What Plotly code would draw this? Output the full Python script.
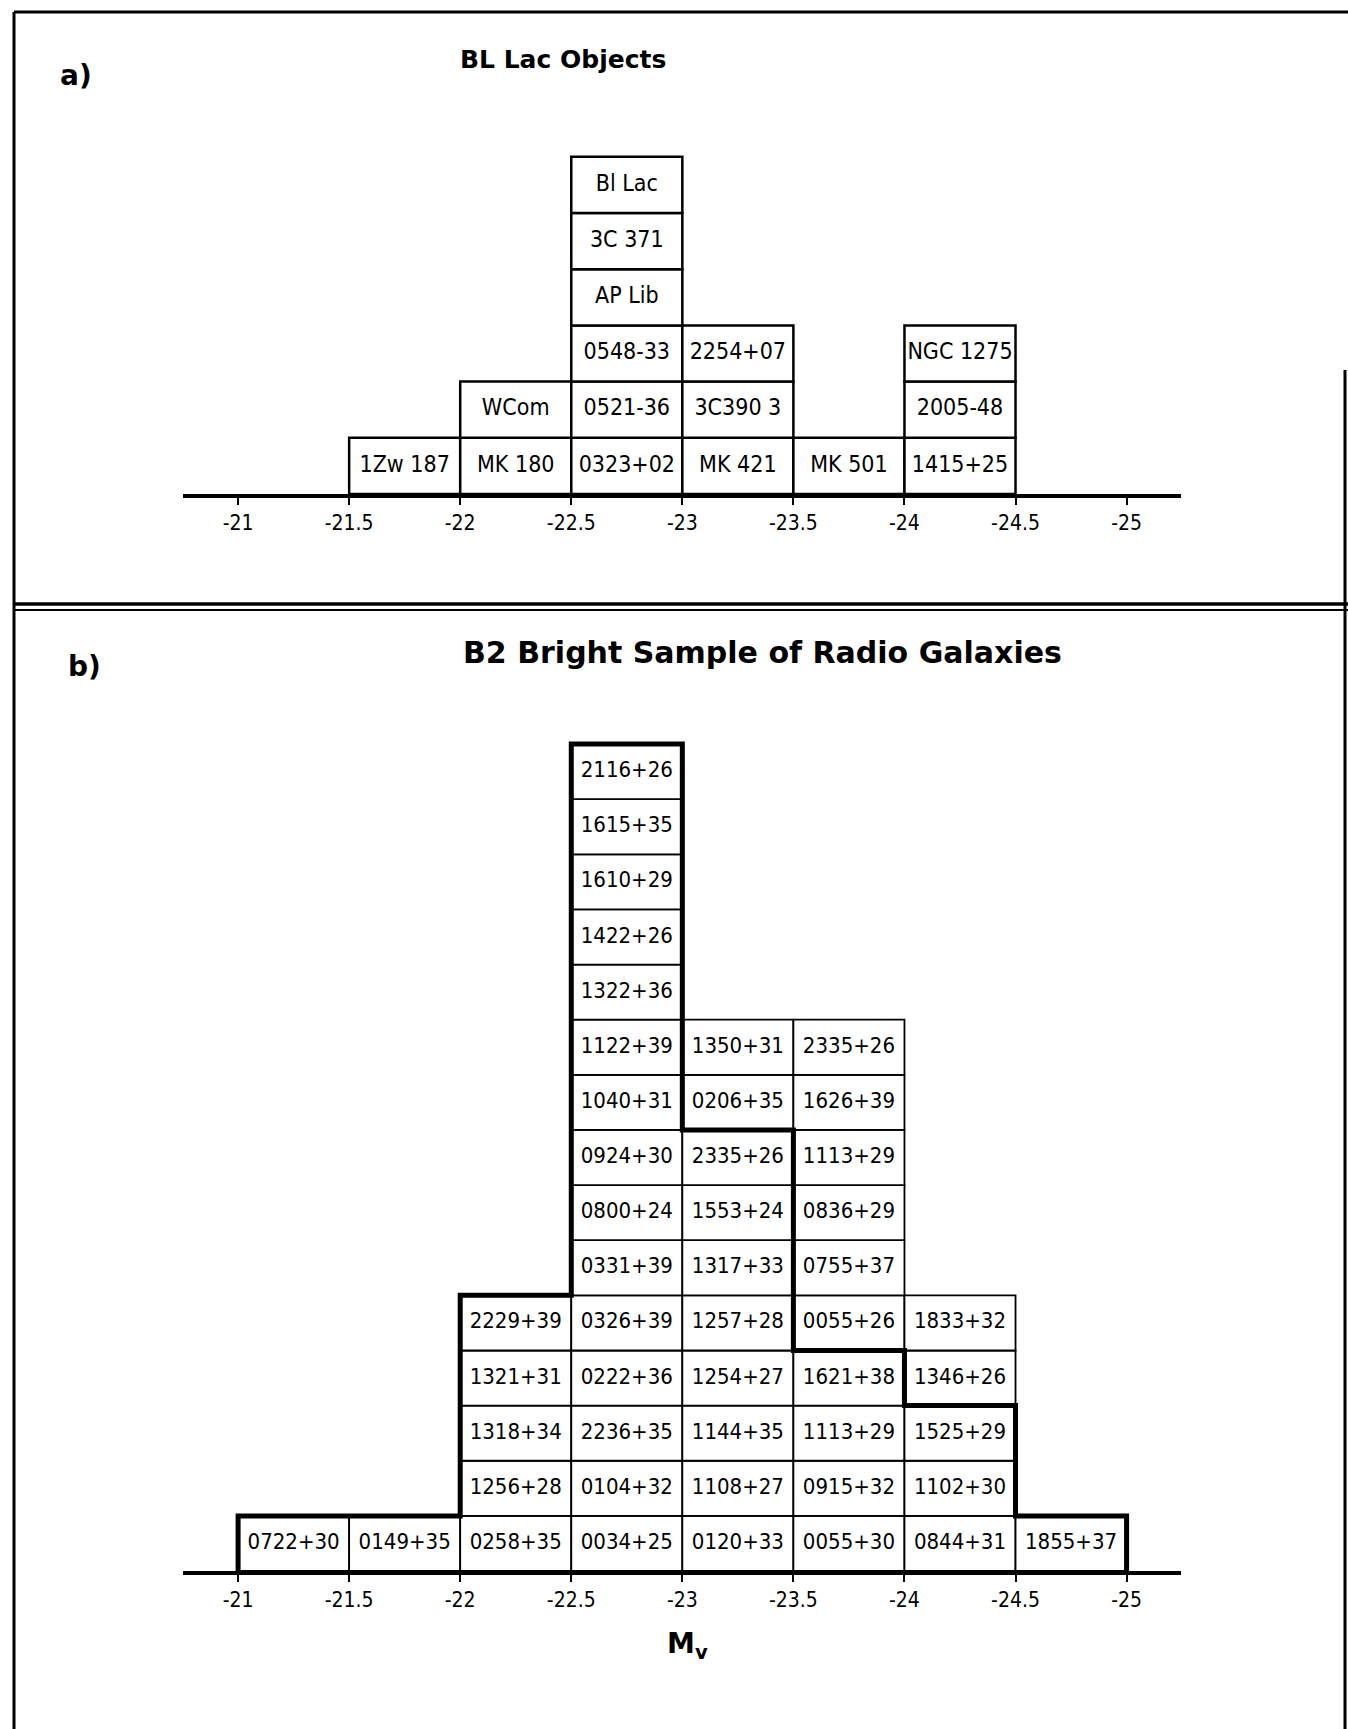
import plotly.graph_objects as go

W, H = 1348, 1729

# ---------------- data ----------------
bin_width = -0.5  # bins run towards brighter (more negative) magnitudes

# Panel a: BL Lac objects, labels per bin from bottom to top
a_bin_left = [-21.5, -22.0, -22.5, -23.0, -23.5, -24.0]
a_labels = [
    ["1Zw 187"],
    ["MK 180", "WCom"],
    ["0323+02", "0521-36", "0548-33", "AP Lib", "3C 371", "Bl Lac"],
    ["MK 421", "3C390 3", "2254+07"],
    ["MK 501"],
    ["1415+25", "2005-48", "NGC 1275"],
]

# Panel b: B2 bright sample of radio galaxies
b_bin_left = [-21.0, -21.5, -22.0, -22.5, -23.0, -23.5, -24.0, -24.5]
b_labels = [
    ["0722+30"],
    ["0149+35"],
    ["0258+35", "1256+28", "1318+34", "1321+31", "2229+39"],
    ["0034+25", "0104+32", "2236+35", "0222+36", "0326+39", "0331+39",
     "0800+24", "0924+30", "1040+31", "1122+39", "1322+36", "1422+26",
     "1610+29", "1615+35", "2116+26"],
    ["0120+33", "1108+27", "1144+35", "1254+27", "1257+28", "1317+33",
     "1553+24", "2335+26", "0206+35", "1350+31"],
    ["0055+30", "0915+32", "1113+29", "1621+38", "0055+26", "0755+37",
     "0836+29", "1113+29", "1626+39", "2335+26"],
    ["0844+31", "1102+30", "1525+29", "1346+26", "1833+32"],
    ["1855+37"],
]
# sub-sample counts (thick outline) per bin
b_sub_counts = [1, 1, 5, 15, 8, 4, 3, 1]

tick_vals = [-21, -21.5, -22, -22.5, -23, -23.5, -24, -24.5, -25]
tick_text = ["-21", "-21.5", "-22", "-22.5", "-23", "-23.5", "-24", "-24.5", "-25"]

# ---------------- helpers ----------------
def flatten(bin_left, labels):
    xs, bases, texts = [], [], []
    for left, col in zip(bin_left, labels):
        for j, lab in enumerate(col):
            xs.append(left + bin_width / 2)
            bases.append(j)
            texts.append(lab)
    return xs, bases, texts

LABEL_FONT = "Liberation Sans Narrow, DejaVu Sans Condensed, Roboto Condensed, Liberation Sans, sans-serif"
TITLE_FONT = "DejaVu Sans, Verdana, sans-serif"

fig = go.Figure()

# Panel a cells
ax, ab, at = flatten(a_bin_left, a_labels)
fig.add_trace(go.Bar(x=ax, y=[1] * len(ax), base=ab, width=abs(bin_width),
                     marker=dict(color="white", line=dict(color="black", width=2.5)),
                     xaxis="x", yaxis="y", showlegend=False, hoverinfo="skip"))
fig.add_trace(go.Scatter(x=ax, y=[b + 0.5 for b in ab], mode="text", text=at,
                         textfont=dict(family=LABEL_FONT, size=23, color="black"),
                         xaxis="x", yaxis="y", showlegend=False, hoverinfo="skip"))

# Panel b cells
bx, bb, bt = flatten(b_bin_left, b_labels)
fig.add_trace(go.Bar(x=bx, y=[1] * len(bx), base=bb, width=abs(bin_width),
                     marker=dict(color="white", line=dict(color="black", width=1.8)),
                     xaxis="x2", yaxis="y2", showlegend=False, hoverinfo="skip"))
fig.add_trace(go.Scatter(x=bx, y=[b + 0.5 for b in bb], mode="text", text=bt,
                         textfont=dict(family=LABEL_FONT, size=22, color="black"),
                         xaxis="x2", yaxis="y2", showlegend=False, hoverinfo="skip"))

# Panel b thick outline of the sub-sample
edges = b_bin_left + [b_bin_left[-1] + bin_width]
out_x = edges + [edges[-1]]
out_y = [0] + b_sub_counts + [0]
fig.add_trace(go.Scatter(x=out_x, y=out_y, mode="lines",
                         line=dict(color="black", width=5, shape="vh"),
                         xaxis="x2", yaxis="y2", showlegend=False, hoverinfo="skip"))

# ---------------- layout ----------------
def ydom(bottom_px, top_px):
    return [1 - bottom_px / H, 1 - top_px / H]

x_dom = [183 / W, 1181 / W]
a_row = 56.2
b_row = 55.13
a_axis_px, b_axis_px = 494, 1571
a_ymax, b_ymax = 7, 15.5

xcommon = dict(domain=x_dom, range=[-20.752, -25.245], showline=True, linecolor="black",
               ticks="outside", ticklen=7, tickwidth=2, tickcolor="black",
               tickvals=tick_vals, ticktext=tick_text, showgrid=False, zeroline=False,
               tickfont=dict(family=LABEL_FONT, size=21, color="black"), fixedrange=True)

fig.update_layout(
    width=W, height=H, margin=dict(l=0, r=0, t=0, b=0),
    paper_bgcolor="white", plot_bgcolor="white", barmode="overlay", showlegend=False,
    xaxis=dict(anchor="y", linewidth=4, **xcommon),
    xaxis2=dict(anchor="y2", linewidth=3.5, **xcommon),
    yaxis=dict(domain=ydom(a_axis_px, a_axis_px - a_ymax * a_row), range=[0, a_ymax],
               visible=False, fixedrange=True),
    yaxis2=dict(domain=ydom(b_axis_px, b_axis_px - b_ymax * b_row), range=[0, b_ymax],
                visible=False, fixedrange=True),
)

def px(xp, yp):
    return xp / W, 1 - yp / H

shapes = []
def line(x0, y0, x1, y1, w):
    X0, Y0 = px(x0, y0)
    X1, Y1 = px(x1, y1)
    shapes.append(dict(type="line", xref="paper", yref="paper", x0=X0, y0=Y0, x1=X1, y1=Y1,
                       line=dict(color="black", width=w)))

line(14, 12, W, 12, 3)        # top border
line(14, 12, 14, H, 3)        # left border
line(1345, 370, 1345, H, 3)   # right border
line(14, 604, W, 604, 3.5)    # divider (double line)
line(14, 610, W, 610, 2)
fig.update_layout(shapes=shapes)

def ann(text, xp, yp, size, family=TITLE_FONT, bold=True):
    X, Y = px(xp, yp)
    t = f"<b>{text}</b>" if bold else text
    fig.add_annotation(text=t, x=X, y=Y, xref="paper", yref="paper", showarrow=False,
                       xanchor="center", yanchor="middle",
                       font=dict(family=family, size=size, color="black"))

ann("a)", 76, 76, 28)
ann("BL Lac Objects", 563, 60, 25)
ann("b)", 84, 666, 28)
ann("B2 Bright Sample of Radio Galaxies", 762, 652, 30)
ann("M<sub>v</sub>", 687, 1645, 28)

fig.write_html("out.html")
